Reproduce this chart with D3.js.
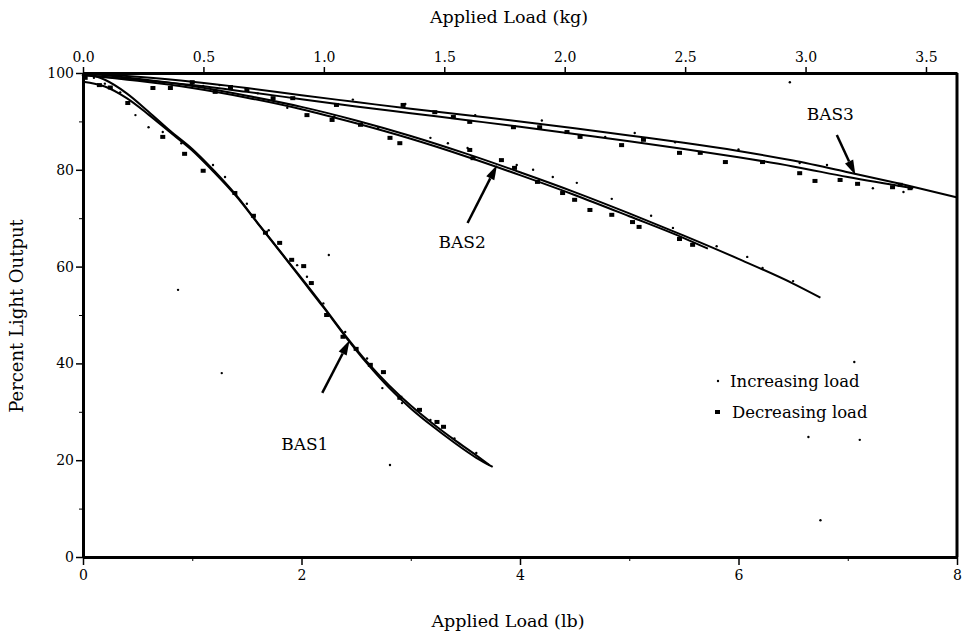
<!DOCTYPE html>
<html>
<head>
<meta charset="utf-8">
<script src="https://cdn.jsdelivr.net/npm/d3@7"></script>
<style>
  body { margin: 0; background: #fff; }
  svg text { font-family: "DejaVu Serif", "Liberation Serif", serif; fill: #000; }
</style>
</head>
<body>
<div id="chart"></div>
<script>
// fitted curves, [load lb, percent light output]
const bas1Inc = [[0,100],[0.2,98.6],[0.4,95.8],[0.6,92],[0.8,88],[1.0,84.3],[1.2,79.8],[1.4,74.8],[1.6,69],[1.8,63.3],[2.0,57.6],[2.2,51.8],[2.4,45.8],[2.6,40.3],[2.8,35.5],[3.0,31.3],[3.2,27.6],[3.4,24.2],[3.6,21],[3.72,19]];
const bas1Dec = [[0,98.2],[0.2,97.2],[0.4,94.8],[0.6,91.4],[0.8,87.7],[1.0,84],[1.2,79.5],[1.4,74.6],[1.6,68.9],[1.8,63.2],[2.0,57.4],[2.2,51.6],[2.4,45.6],[2.6,40],[2.8,35],[3.0,30.7],[3.2,27],[3.4,23.6],[3.6,20.5],[3.75,18.6]];
const bas2Inc = [[0,100],[0.5,98.8],[1.0,97.3],[1.5,95.3],[2.0,93],[2.5,90.2],[3.0,87],[3.5,83.4],[4.0,79.5],[4.5,75.4],[5.0,71],[5.5,66.4],[6.0,61.6],[6.5,56.5],[6.75,53.6]];
const bas2Dec = [[0,99.6],[0.5,98.4],[1.0,96.9],[1.5,94.9],[2.0,92.5],[2.5,89.6],[3.0,86.4],[3.5,82.8],[4.0,78.9],[4.5,74.8],[5.0,70.4],[5.5,65.9],[5.72,63.7]];
const bas3Inc = [[0,100],[0.5,99.2],[1.0,98.2],[1.5,96.9],[2.0,95.4],[2.5,94],[3.0,92.6],[3.5,91.3],[4.0,90],[4.5,88.6],[5.0,87.1],[5.5,85.6],[6.0,83.9],[6.5,81.9],[7.0,79.5],[7.5,77],[8.0,74.3]];
const bas3Dec = [[0,99.6],[0.5,98.6],[1.0,97.5],[1.5,96.1],[2.0,94.6],[2.5,93.1],[3.0,91.7],[3.5,90.3],[4.0,88.9],[4.5,87.4],[5.0,85.9],[5.5,84.3],[6.0,82.6],[6.5,80.7],[7.0,78.5],[7.6,76.2]];

// measured points
const incPoints = [
  [0,99.5],[0.1,99],[0.2,97.8],[0.34,96],[0.48,91.3],[0.6,88.8],[0.73,87.8],[0.9,85.5],[1.19,81],[1.3,78.5],[1.5,73],[1.7,67.5],[1.96,60.3],[2.05,57.9],[2.2,52.4],[2.4,46.5],[2.6,41],[2.74,34.9],[2.92,31.8],[3.18,28.3],[3.4,24.5],[3.6,21.5],
  [0.3,99.3],[0.7,98],[1.1,97.3],[1.6,95.8],[1.87,92.8],[2.3,91],[2.7,88.6],[3.18,86.6],[3.34,85.5],[3.52,84.5],[3.97,81],[4.12,80],[4.3,78.5],[4.52,77.3],[4.84,74],[5.2,70.5],[5.4,68],[5.8,64.2],[6.08,62],[6.22,59.7],[6.5,57],
  [1.25,97.5],[2.47,94.5],[2.95,93.6],[3.59,91.3],[4.2,90.2],[4.78,86.8],[5.05,87.6],[5.42,85.7],[6.0,84.2],[6.56,81.4],[6.81,81],[7.23,76.2],[7.51,75.4],
  [0.87,55.2],[1.27,38],[2.25,62.4],[2.81,19],[6.47,98.1],[6.64,24.8],[7.06,40.3],[7.11,24.2],[6.75,7.6]
];
const decPoints = [
  [0.02,99],[0.15,97.5],[0.41,93.8],[0.73,86.8],[0.93,83.3],[1.1,79.8],[1.39,75.2],[1.56,70.5],[1.67,67],[1.8,64.9],[1.91,61.4],[2.02,60.1],[2.09,56.6],[2.23,50],[2.38,45.5],[2.5,43],[2.63,39.7],[2.75,38.2],[2.9,32.9],[3.08,30.4],[3.24,27.9],[3.3,26.9],
  [0.25,97],[0.64,96.9],[0.8,96.9],[1.0,98.1],[1.21,96.1],[1.35,97.1],[1.5,96.5],[1.74,94.8],[1.92,94.8],[2.05,91.3],[2.28,90.3],[2.54,89.3],[2.81,86.6],[2.9,85.5],[3.57,82.4],[3.54,84.1],[3.83,82],[3.95,80.4],[4.16,77.5],[4.39,75.2],[4.5,73.8],[4.64,71.7],[4.84,70.7],[5.03,69.2],[5.09,68.2],[5.46,65.7],[5.58,64.5],
  [2.32,93.4],[2.93,93.4],[3.22,91.9],[3.39,90.9],[3.54,89.9],[3.94,88.8],[4.18,88.8],[4.43,87.8],[4.55,86.8],[4.93,85.1],[5.13,86.2],[5.46,83.5],[5.65,83.5],[5.88,81.6],[6.22,81.6],[6.56,79.3],[6.7,77.7],[6.93,77.9],[7.09,77.1],[7.41,76.4],[7.48,76.9],[7.57,76.2]
];

const lbTicks = [0, 2, 4, 6, 8];
const lbMinor = [1, 3, 5, 7];
const kgTicks = [0, 0.5, 1.0, 1.5, 2.0, 2.5, 3.0, 3.5];
const pctTicks = [0, 20, 40, 60, 80, 100];
const pctMinor = [10, 30, 50, 70, 90];
const LB_PER_KG = 2.2046;

const labels = [
  { text: "BAS1", x: 2.03, y: 22.1, tail: [2.19, 33.9], tip: [2.44, 44.8] },
  { text: "BAS2", x: 3.47, y: 63.8, tail: [3.52, 69.0], tip: [3.79, 81.0] },
  { text: "BAS3", x: 6.84, y: 90.3, tail: [6.90, 87.2], tip: [7.07, 78.9] }
];

const W = 962, H = 633;
const m = { top: 73, right: 5, bottom: 76, left: 83 };
const w = W - m.left - m.right, h = H - m.top - m.bottom;

const svg = d3.select("#chart").append("svg")
  .attr("width", W)
  .attr("height", H);
const g = svg.append("g").attr("transform", `translate(${m.left},${m.top})`);

const x = d3.scaleLinear().domain([0, 8]).range([0, w]);
const xKg = d3.scaleLinear().domain([0, 8 / LB_PER_KG]).range([0, w]);
const y = d3.scaleLinear().domain([0, 100]).range([h, 0]);

// axes
const styleAxis = sel => {
  sel.select(".domain").attr("stroke-width", 3);
  sel.selectAll(".tick line").attr("stroke-width", 1.5);
  sel.selectAll("text").attr("font-size", 14).attr("font-family", "DejaVu Serif, serif");
};

g.append("g").attr("transform", `translate(0,${h})`)
  .call(d3.axisBottom(x).tickValues(lbTicks).tickSize(8).tickSizeOuter(0).tickPadding(5).tickFormat(d3.format("d")))
  .call(styleAxis);
g.append("g").attr("transform", `translate(0,${h})`)
  .call(d3.axisBottom(x).tickValues(lbMinor).tickSize(4).tickFormat(""))
  .call(s => s.select(".domain").remove());

g.append("g")
  .call(d3.axisTop(xKg).tickValues(kgTicks).tickSize(6).tickSizeOuter(0).tickPadding(5).tickFormat(d3.format(".1f")))
  .call(styleAxis);

g.append("g")
  .call(d3.axisLeft(y).tickValues(pctTicks).tickSize(7).tickSizeOuter(0).tickPadding(2).tickFormat(d3.format("d")))
  .call(styleAxis);
g.append("g")
  .call(d3.axisLeft(y).tickValues(pctMinor).tickSize(4).tickFormat(""))
  .call(s => s.select(".domain").remove());

g.append("line")
  .attr("x1", x(8)).attr("x2", x(8))
  .attr("y1", y(100)).attr("y2", y(0))
  .attr("stroke", "#000").attr("stroke-width", 3);

// axis titles
svg.append("text").attr("x", 509).attr("y", 23).attr("text-anchor", "middle")
  .attr("font-size", 17.5).text("Applied Load (kg)");
svg.append("text").attr("x", 508).attr("y", 627).attr("text-anchor", "middle")
  .attr("font-size", 17.5).text("Applied Load (lb)");
svg.append("text").attr("transform", "translate(23,316) rotate(-90)").attr("text-anchor", "middle")
  .attr("font-size", 18).text("Percent Light Output");

// fitted curves
const line = d3.line().x(d => x(d[0])).y(d => y(d[1])).curve(d3.curveMonotoneX);
[bas1Inc, bas1Dec, bas2Inc, bas2Dec, bas3Inc, bas3Dec].forEach(c => {
  g.append("path").datum(c)
    .attr("d", line)
    .attr("fill", "none")
    .attr("stroke", "#000")
    .attr("stroke-width", 2);
});

// points
g.selectAll(".inc").data(incPoints).join("circle")
  .attr("class", "inc")
  .attr("cx", d => x(d[0])).attr("cy", d => y(d[1]))
  .attr("r", 1.2).attr("fill", "#000");
g.selectAll(".dec").data(decPoints).join("rect")
  .attr("class", "dec")
  .attr("x", d => x(d[0]) - 2.5).attr("y", d => y(d[1]) - 2)
  .attr("width", 5).attr("height", 4).attr("fill", "#000");

// labels and arrows
labels.forEach(l => {
  g.append("text").attr("x", x(l.x)).attr("y", y(l.y))
    .attr("text-anchor", "middle").attr("font-size", 17).text(l.text);
  const x0 = x(l.tail[0]), y0 = y(l.tail[1]), x1 = x(l.tip[0]), y1 = y(l.tip[1]);
  const a = Math.atan2(y1 - y0, x1 - x0), len = 15, half = 4.5;
  const bx = x1 - len * Math.cos(a), by = y1 - len * Math.sin(a);
  g.append("line").attr("x1", x0).attr("y1", y0).attr("x2", bx).attr("y2", by)
    .attr("stroke", "#000").attr("stroke-width", 2.5);
  g.append("path")
    .attr("d", `M${x1},${y1}L${bx + half * Math.sin(a)},${by - half * Math.cos(a)}L${bx - half * Math.sin(a)},${by + half * Math.cos(a)}Z`)
    .attr("fill", "#000");
});

// legend
const lg = svg.append("g").attr("transform", "translate(718,381)");
lg.append("circle").attr("cx", 0).attr("cy", 0).attr("r", 1.2).attr("fill", "#000");
lg.append("text").attr("x", 12).attr("y", 6).attr("font-size", 16.5).text("Increasing load");
lg.append("rect").attr("x", -3).attr("y", 29).attr("width", 5).attr("height", 4).attr("fill", "#000");
lg.append("text").attr("x", 14).attr("y", 37).attr("font-size", 16.5).text("Decreasing load");
</script>
</body>
</html>
